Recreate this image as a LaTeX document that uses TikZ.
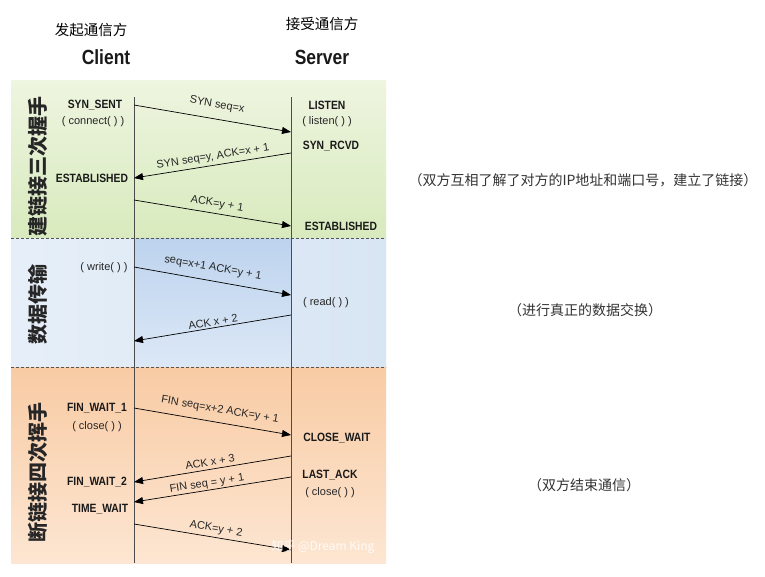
\documentclass[tikz,border=0pt]{standalone}
\usepackage{fontspec}
\setmainfont{Liberation Sans}
\newfontfamily\cjk{Noto Sans CJK SC}
\newfontfamily\narrowsans[FakeStretch=0.86]{Liberation Sans}
\newfontfamily\headsans[FakeStretch=0.85]{Liberation Sans}
\usetikzlibrary{arrows.meta}
\definecolor{gtop}{HTML}{EEF5E0}
\definecolor{gbot}{HTML}{D8EABD}
\definecolor{bleft}{HTML}{E6EFF9}
\definecolor{bright}{HTML}{D8E5F3}
\definecolor{bmidtop}{HTML}{BDD3EE}
\definecolor{bmidbot}{HTML}{DCE8F6}
\definecolor{otop}{HTML}{F8CBA4}
\definecolor{obot}{HTML}{FDE6D2}
\definecolor{sepline}{HTML}{555555}
\tikzset{
  x=1pt, y=-1pt,
  state/.style={font=\narrowsans\bfseries\fontsize{12}{12}\selectfont, inner sep=0pt, text=black!90},
  call/.style={font=\fontsize{11}{12}\selectfont, inner sep=0pt, text=black!85},
  msg/.style={font=\fontsize{11}{12}\selectfont, inner sep=0pt, text=black!85},
  phase/.style={font=\cjk\bfseries\fontsize{20}{20}\selectfont, rotate=90, inner sep=0pt, text=black!85},
  note/.style={font=\cjk\fontsize{14}{14}\selectfont, inner sep=0pt, text=black!80},
  head/.style={font=\headsans\bfseries\fontsize{20.5}{20}\selectfont, inner sep=0pt, text=black!90},
  role/.style={font=\cjk\fontsize{14.5}{15}\selectfont, inner sep=0pt, text=black},
  arr/.style={-{Triangle[length=9pt,width=7pt]}, line width=0.7pt, black},
  life/.style={draw=black!70, line width=0.8pt},
  sep/.style={draw=sepline, line width=0.8pt, dash pattern=on 3pt off 2pt}
}
\begin{document}
\begin{tikzpicture}
\useasboundingbox[fill=white] (0,0) rectangle (765,576);
% bands
\shade[top color=gtop, bottom color=gbot] (11,80) rectangle (386,238);
\shade[left color=bleft, right color=bright] (11,238) rectangle (386,367);
\shade[top color=bmidtop, bottom color=bmidbot] (134,238) rectangle (291,367);
\shade[top color=otop, bottom color=obot] (11,367) rectangle (386,563);
\coordinate (s1a) at (11,238); \coordinate (s1b) at (386,238);
\coordinate (s2a) at (11,367); \coordinate (s2b) at (386,367);
\draw[sep] (s1a) -- (s1b);
\draw[sep] (s2a) -- (s2b);
% headers
\node[role] (rc) at (91,30) {发起通信方};
\node[role] (rs) at (322,24) {接受通信方};
\node[head] (client) at (106,57) {Client};
\node[head] (server) at (322,57) {Server};
% lifelines
\coordinate (cT) at (134,97); \coordinate (cB) at (134,563);
\coordinate (sT) at (291,97); \coordinate (sB) at (291,563);
\draw[life] (cT) -- (cB);
\draw[life] (sT) -- (sB);
% phase labels
\node[phase] (p1) at (38,166) {建链接三次握手};
\node[phase] (p2) at (38,304) {数据传输};
\node[phase] (p3) at (38,472) {断链接四次挥手};
% states
\node[state] (synsent) at (95,105) {SYN\_SENT};
\node[call] (connect) at (93,122) {( connect( ) )};
\node[state] (estc) at (92,178) {ESTABLISHED};
\node[state] (listen) at (327,105) {LISTEN};
\node[call] (listenc) at (327,122) {( listen( ) )};
\node[state] (synrcvd) at (331,146) {SYN\_RCVD};
\node[state] (ests) at (341,226) {ESTABLISHED};
\node[call] (write) at (104,268) {( write( ) )};
\node[call] (read) at (326,303) {( read( ) )};
\node[state] (fw1) at (97,408) {FIN\_WAIT\_1};
\node[call] (closec) at (97,427) {( close( ) )};
\node[state] (cw) at (337,438) {CLOSE\_WAIT};
\node[state] (la) at (330,475) {LAST\_ACK};
\node[call] (closes) at (330,493) {( close( ) )};
\node[state] (fw2) at (97,482) {FIN\_WAIT\_2};
\node[state] (tw) at (100,509) {TIME\_WAIT};
% message endpoints
\coordinate (m1a) at (134,105); \coordinate (m1b) at (291,132);
\coordinate (m2a) at (291,153); \coordinate (m2b) at (134,178);
\coordinate (m3a) at (134,200); \coordinate (m3b) at (291,226);
\coordinate (m4a) at (134,267); \coordinate (m4b) at (291,295);
\coordinate (m5a) at (291,315); \coordinate (m5b) at (134,341);
\coordinate (m6a) at (134,408); \coordinate (m6b) at (291,435);
\coordinate (m7a) at (291,456); \coordinate (m7b) at (134,482);
\coordinate (m8a) at (291,477); \coordinate (m8b) at (134,502);
\coordinate (m9a) at (134,524); \coordinate (m9b) at (291,550);
\draw[arr] (m1a) -- (m1b);
\draw[arr] (m2a) -- (m2b);
\draw[arr] (m3a) -- (m3b);
\draw[arr] (m4a) -- (m4b);
\draw[arr] (m5a) -- (m5b);
\draw[arr] (m6a) -- (m6b);
\draw[arr] (m7a) -- (m7b);
\draw[arr] (m8a) -- (m8b);
\draw[arr] (m9a) -- (m9b);
% message labels
\node[msg, rotate=-9.8] (l1) at (217,105) {SYN seq=x};
\node[msg, rotate=9.0] (l2) at (213,157) {SYN seq=y, ACK=x + 1};
\node[msg, rotate=-9.4] (l3) at (217,204) {ACK=y + 1};
\node[msg, rotate=-10.1] (l4) at (213,268) {seq=x+1 ACK=y + 1};
\node[msg, rotate=9.4] (l5) at (213,322) {ACK x + 2};
\node[msg, rotate=-9.8] (l6) at (220,410) {FIN seq=x+2 ACK=y + 1};
\node[msg, rotate=9.4] (l7) at (210,462) {ACK x + 3};
\node[msg, rotate=9.0] (l8) at (207,484) {FIN seq = y + 1};
\node[msg, rotate=-9.4] (l9) at (216,529) {ACK=y + 2};
% watermark
\node[font=\cjk\fontsize{12}{12}\selectfont, text=white, opacity=0.85, inner sep=0pt] (wm) at (323,547) {知乎 @Dream King};
% notes
\node[note] (n1) at (583,180) {（双方互相了解了对方的IP地址和端口号，建立了链接）};
\node[note] (n2) at (585,310) {（进行真正的数据交换）};
\node[note] (n3) at (584,485) {（双方结束通信）};
\end{tikzpicture}
\end{document}
